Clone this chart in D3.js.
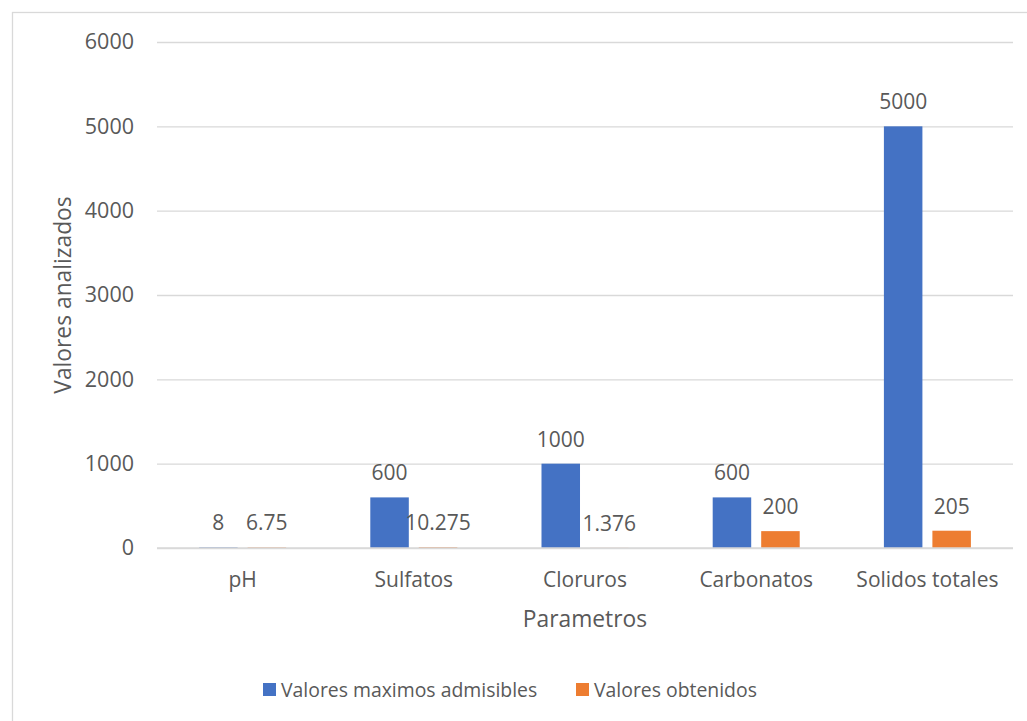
<!DOCTYPE html>
<html><head><meta charset="utf-8">
<script src="https://cdn.jsdelivr.net/npm/d3@7"></script>
<style>body{margin:0;background:#fff;} text{font-family:"Open Sans",sans-serif;fill:#595959;}</style>
</head><body>
<svg id="c" width="1027" height="721"></svg>
<script>
const categories = ["pH","Sulfatos","Cloruros","Carbonatos","Solidos totales"];
const seriesNames = ["Valores maximos admisibles","Valores obtenidos"];
const maxValues = [8, 600, 1000, 600, 5000];
const obtainedValues = [6.75, 10.275, 1.376, 200, 205];
const valueLabels = [["8","600","1000","600","5000"],["6.75","10.275","1.376","200","205"]];
const yTicks = [0,1000,2000,3000,4000,5000,6000];
const colors = ["#4472C4","#ED7D31"];

const svg = d3.select("#c");
svg.append("rect").attr("x",12.5).attr("y",12.5).attr("width",1100).attr("height",800)
  .attr("fill","none").attr("stroke","#d9d9d9").attr("stroke-width",1.3);

const L=157, R=1013, T=42, B=548;
const y = d3.scaleLinear().domain([0,6000]).range([B,T]);
const x0 = d3.scaleBand().domain(categories).range([L,R]).padding(0);
const x1 = d3.scaleBand().domain(seriesNames).range([0,x0.bandwidth()]).paddingInner(0.206).paddingOuter(0.868);

const yAxis = d3.axisLeft(y).tickValues(yTicks).tickSize(-(R-L)).tickPadding(23).tickFormat(d3.format("d"));
const ga = svg.append("g").attr("transform",`translate(${L},0)`).call(yAxis);
ga.select(".domain").remove();
ga.selectAll(".tick line").attr("stroke","#d9d9d9").attr("stroke-width",1.3);
ga.selectAll(".tick text").style("font-size","21.5px").attr("fill","#595959");

const data = [maxValues, obtainedValues];
data.forEach((vals,si)=>{
  const g = svg.append("g");
  g.selectAll("rect").data(categories).join("rect")
    .attr("x",c=>x0(c)+x1(seriesNames[si]))
    .attr("width",x1.bandwidth())
    .attr("y",(c,i)=>y(vals[i]))
    .attr("height",(c,i)=>B-y(vals[i]))
    .attr("fill",colors[si]);
  g.selectAll("text").data(categories).join("text")
    .attr("x",c=>x0(c)+x1(seriesNames[si])+x1.bandwidth()/2)
    .attr("y",(c,i)=>y(vals[i])-17)
    .attr("text-anchor","middle")
    .style("font-size","21px")
    .attr("fill","#404040")
    .text((c,i)=>valueLabels[si][i]);
});

// category axis line drawn over the bars
const xAxis = d3.axisBottom(x0).tickSize(0).tickPadding(24);
const gx = svg.append("g").attr("transform",`translate(0,${B})`).call(xAxis);
gx.select(".domain").attr("stroke","#d9d9d9").attr("stroke-width",1.6).attr("d",`M${L},0H${R}`);
gx.selectAll(".tick text").style("font-size","21px").attr("fill","#595959");

svg.append("text").attr("transform",`translate(71,${(T+B)/2}) rotate(-90)`)
  .attr("text-anchor","middle").style("font-size","22.8px").text("Valores analizados");
svg.append("text").attr("x",(L+R)/2).attr("y",627).attr("text-anchor","middle")
  .style("font-size","22.8px").text("Parametros");

const legend = svg.append("g");
const lx = [263, 576];
seriesNames.forEach((s,i)=>{
  legend.append("rect").attr("x",lx[i]).attr("y",683).attr("width",13).attr("height",13).attr("fill",colors[i]);
  legend.append("text").attr("x",lx[i]+18).attr("y",697).style("font-size","19.4px").text(s);
});
</script>
</body></html>
